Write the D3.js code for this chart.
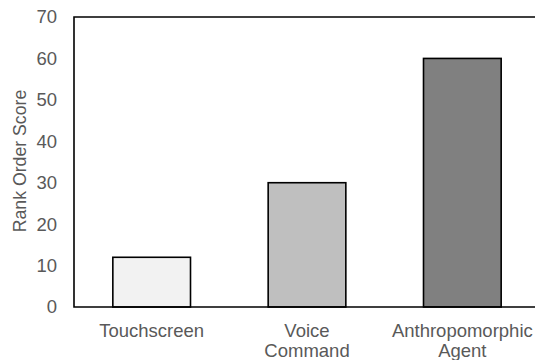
<!DOCTYPE html>
<html>
<head>
<meta charset="utf-8">
<script src="https://cdn.jsdelivr.net/npm/d3@7"></script>
<style>
html,body{margin:0;padding:0;background:#fff;}
svg{display:block;}
</style>
</head>
<body>
<svg id="chart" width="535" height="360"></svg>
<script>
const categories = [["Touchscreen"], ["Voice", "Command"], ["Anthropomorphic", "Agent"]];
const values = [12, 30, 60];
const colors = ["#f2f2f2", "#bfbfbf", "#808080"];
const yTicks = [0, 10, 20, 30, 40, 50, 60, 70];
const yTitle = "Rank Order Score";

(function () {
const svg = d3.select("#chart");
const mL = 74, mR = 540, mT = 17, mB = 307;
const font = "'Liberation Sans', Arial, sans-serif";

const keys = categories.map(c => c.join(" "));
const x = d3.scaleBand().domain(keys).range([mL, mR]).paddingInner(0.5).paddingOuter(0.25);
const y = d3.scaleLinear().domain([0, 70]).range([mB, mT]);

// bars
svg.append("g").selectAll("rect").data(values).join("rect")
  .attr("x", (d, i) => x(keys[i]))
  .attr("y", d => y(d))
  .attr("width", x.bandwidth())
  .attr("height", d => y(0) - y(d))
  .attr("fill", (d, i) => colors[i])
  .attr("stroke", "#000")
  .attr("stroke-width", 1.6);

// y axis labels
const yAxis = svg.append("g").attr("transform", `translate(${mL},0)`)
  .call(d3.axisLeft(y).tickValues(yTicks).tickSize(0).tickPadding(17));
yAxis.select(".domain").remove();
yAxis.selectAll("text").attr("fill", "#595959").style("font-family", font).style("font-size", "18.5px");

// frame: left, top, bottom
svg.append("path")
  .attr("d", `M${mR + 5},${mT}H${mL}V${mB}H${mR + 5}`)
  .attr("fill", "none").attr("stroke", "#000").attr("stroke-width", 1.6);

// x labels
const xl = svg.append("g");
categories.forEach((lines, i) => {
  const cx = x(keys[i]) + x.bandwidth() / 2;
  const t = xl.append("text")
    .attr("x", cx)
    .attr("y", 336.5)
    .attr("text-anchor", "middle")
    .attr("fill", "#595959")
    .style("font-family", font).style("font-size", "18.5px");
  lines.forEach((l, j) => {
    t.append("tspan").attr("x", cx).attr("dy", j === 0 ? 0 : 20).text(l);
  });
});

// y title
svg.append("text")
  .attr("transform", `translate(25.5,161) rotate(-90)`)
  .attr("text-anchor", "middle")
  .attr("fill", "#595959")
  .style("font-family", font).style("font-size", "17.7px")
  .text(yTitle);
})();
</script>
</body>
</html>
